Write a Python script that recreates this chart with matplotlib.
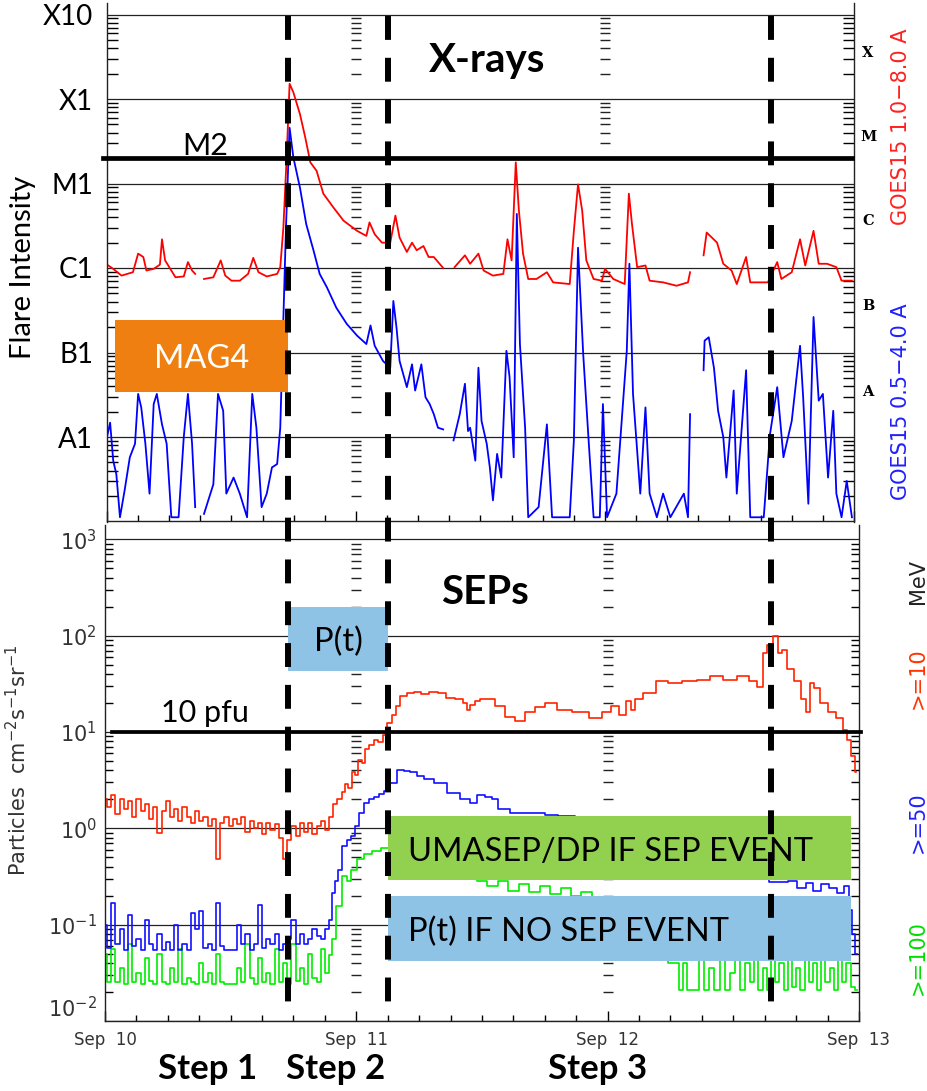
import matplotlib
matplotlib.use("Agg")
import matplotlib.pyplot as plt
import matplotlib.transforms as mtransforms
import numpy as np
from matplotlib.lines import Line2D
from matplotlib.patches import Rectangle
from matplotlib.ticker import LogLocator, NullFormatter

plt.rcParams['mathtext.fontset'] = 'dejavusans'

# ---- data: time in hours since Sep 10 00 UT, values as log10 ----
NAN = float('nan')

# GOES15 1.0-8.0 A (W m-2)
xl_t = [0, 0.6, 1.4, 2.5, 3.0, 3.5, 3.8, 4.5, 5.1, 5.3, 5.6, 6.1, 6.6, 7.4, 7.8, 8.2, 8.5, 8.9,
        9.35, 10.25, 10.96, 11.4, 12.0, 12.8, 13.6, 14.1, 14.6, 15.4, 16.4, 16.7, 17.0, 17.3, 17.6,
        17.96, 18.6, 19.1, 19.6, 20.2, 20.85, 21.8, 22.8, 24.1, 25.0, 25.3, 25.8, 26.5, 27.3, 27.8,
        28.2, 28.9, 29.4, 29.85, 30.5, 31.0, 31.5, 32.4, 32.9, 33.5, 34.5, 35.0, 35.8, 36.3, 37.2,
        38.2, 38.6, 39.0, 39.4, 39.7, 40.1, 40.6, 41.4, 42.4, 43.0, 44.6, 45.0, 45.4, 45.8, 46.2,
        46.9, 47.7, 48.0, 48.8, 49.9, 50.3, 50.6, 51.1, 51.9, 52.3, 53.6, 54.9, 56.0, 56.2, 56.8,
        57.5, 57.8, 58.8, 59.4, 60.2, 60.7, 61.6, 62.0, 63.0, 63.7, 64.6, 65.0, 66.0, 66.8, 67.3,
        68.1, 68.6, 69.4, 70.3, 70.8, 71.8]
xl_log = [-5.96, -6.01, -6.09, -6.05, -5.83, -5.87, -6.03, -6.01, -5.96, -5.66, -5.91, -6.01, -6.11,
          -6.10, -5.93, -6.03, -6.07, NAN, -6.13, -6.11, -5.91, -6.09, -6.15, -6.15, -6.07, -5.88,
          -6.05, -6.10, -6.07, -5.99, -5.52, -4.73, -3.82, -3.92, -4.18, -4.45, -4.75, -4.85, -5.12,
          -5.28, -5.44, -5.56, -5.62, -5.46, -5.60, -5.70, -5.70, -5.38, -5.64, -5.81, -5.70, -5.79,
          -5.74, -5.87, -5.87, -6.00, NAN, -5.99, -5.85, -5.95, -5.83, -6.03, -6.09, -6.07, -5.66,
          -5.91, -4.75, -5.32, -5.83, -6.13, -6.13, -6.05, -6.17, -6.19, -5.56, -5.01, -5.32, -5.91,
          -6.13, -6.15, -6.01, -6.13, -6.19, -5.12, -5.48, -5.99, -5.97, -6.15, -6.17, -6.21, -6.17,
          -6.05, NAN, -5.85, -5.58, -5.70, -5.95, -6.03, -6.19, -5.87, -6.17, -6.17, -6.17, -5.93,
          -6.13, -6.05, -5.66, -5.97, -5.56, -5.95, -5.95, -5.99, -6.15, -6.15]

# GOES15 0.5-4.0 A
xs_t = [0, 0.3, 0.6, 0.9, 1.25, 1.7, 2.2, 2.7, 3.0, 3.3, 3.7, 4.1, 4.5, 4.8, 5.3, 5.75, 6.2, 6.9,
        7.4, 7.8, 8.2, 8.5, 8.9, 9.35, 10.25, 10.7, 11.2, 11.5, 12.2, 12.8, 13.5, 14.0, 14.4, 14.9,
        15.4, 15.9, 16.4, 16.7, 17.0, 17.25, 17.6, 17.96, 18.6, 19.2, 19.9, 20.5, 21.2, 22.1, 23.1,
        24.1, 25.0, 25.4, 25.8, 26.6, 27.3, 27.6, 27.9, 28.2, 28.9, 29.4, 29.7, 30.3, 30.7, 31.1,
        31.5, 31.9, 32.4, 32.9, 33.4, 34.0, 34.5, 34.8, 35.0, 35.5, 35.8, 36.1, 36.6, 36.9, 37.2,
        37.6, 38.0, 38.5, 38.8, 39.2, 39.5, 39.8, 40.3, 40.6, 41.6, 42.4, 42.9, 44.6, 45.0, 45.4,
        45.9, 46.4, 46.9, 47.5, 47.8, 48.2, 49.1, 50.1, 50.35, 50.7, 51.4, 51.9, 52.3, 53.0, 53.6,
        54.3, 55.6, 56.0, 56.2, 56.8, 57.5, 57.6, 58.0, 58.5, 58.9, 59.4, 59.7, 60.4, 60.7, 61.6,
        62.0, 63.3, 63.9, 64.6, 65.2, 66.0, 66.8, 67.1, 67.6, 68.1, 68.6, 69.0, 69.5, 70.0, 70.3,
        70.8, 71.3, 71.8]
xs_log = [-8.00, -7.83, -8.28, -8.44, -8.95, -8.63, -8.24, -8.08, -7.49, -7.65, -8.08, -8.67, -7.61,
          -7.49, -7.85, -8.08, -8.95, -8.95, -8.00, -7.49, -8.08, -8.83, NAN, -8.91, -8.56, -7.49,
          -7.69, -8.67, -8.48, -8.67, -8.95, -7.49, -7.89, -8.83, -8.67, -8.36, -8.32, -7.89, -6.62,
          -5.52, -4.34, -4.69, -5.05, -5.48, -5.79, -6.07, -6.23, -6.47, -6.66, -6.80, -6.90, -6.68,
          -6.92, -7.10, -7.18, -6.39, -6.70, -7.10, -7.41, -7.14, -7.45, -7.14, -7.53, -7.61, -7.73,
          -7.89, -7.91, NAN, -8.04, -7.73, -7.37, -7.93, -7.89, -8.28, -7.18, -7.81, -8.08, -8.36,
          -8.75, -8.20, -8.48, -6.98, -7.29, -8.24, -5.36, -6.90, -7.89, -8.95, -8.83, -7.85, -8.95,
          -8.95, -8.04, -5.76, -7.02, -8.00, -8.95, -8.95, -7.61, -8.95, -8.67, -6.98, -5.95, -7.49,
          -8.67, -7.65, -8.67, -8.95, -8.67, -8.95, -8.67, -8.95, -7.73, NAN, -7.21, -6.86, -6.82,
          -7.18, -7.69, -8.00, -8.48, -7.45, -8.67, -7.21, -8.95, -8.95, -7.97, -7.41, -8.24, -7.81,
          -6.92, -7.53, -8.79, -6.58, -7.57, -7.49, -8.48, -7.69, -8.67, -8.95, -8.52, -8.95]

# GOES proton flux >=10 MeV (pfu)
p10_t = [0.0, 0.4, 0.8, 1.2, 1.6, 2.0, 2.4, 2.8, 3.2, 3.6, 4.0, 4.4, 4.8, 5.2, 5.6, 6.0, 6.4, 6.8,
         7.2, 7.6, 8.0, 8.4, 8.8, 9.2, 9.6, 10.0, 10.4, 10.8, 11.2, 11.6, 12.0, 12.4, 12.8, 13.2,
         13.6, 14.0, 14.4, 14.8, 15.2, 15.6, 16.0, 16.4, 16.8, 17.2, 17.6, 18.0, 18.4, 18.8, 19.2,
         19.6, 20.0, 20.4, 20.8, 21.2, 21.6, 22.0, 22.4, 22.8, 23.1, 23.4, 23.7, 24.0, 24.4, 24.7,
         25.0, 25.4, 25.9, 26.3, 26.7, 27.2, 27.6, 27.9, 28.5, 29.2, 29.8, 30.5, 31.4, 32.2, 32.9,
         33.9, 34.4, 34.7, 35.1, 35.5, 36.1, 36.8, 37.7, 38.7, 39.6, 40.6, 41.5, 42.5, 43.8, 45.4,
         47.0, 47.9, 48.7, 49.5, 50.0, 50.4, 50.8, 52.0, 53.3, 54.3, 55.9, 57.1, 58.4, 59.7, 61.0,
         61.9, 62.7, 62.9, 63.5, 64.0, 64.45, 64.9, 65.4, 66.2, 66.7, 67.1, 67.5, 68.0, 68.6, 69.5,
         70.2, 70.7, 71.1, 71.45, 71.7]
p10_log = [0.30, 0.22, 0.35, 0.15, 0.30, 0.20, 0.28, 0.12, 0.30, 0.18, 0.25, 0.10, 0.22, -0.05, 0.18,
           0.28, 0.12, 0.20, 0.08, 0.22, 0.12, 0.05, 0.18, 0.08, 0.12, 0.02, 0.10, -0.32, 0.06, 0.12,
           0.02, 0.10, 0.04, 0.12, -0.04, 0.08, 0.00, 0.06, -0.06, 0.05, -0.02, 0.04, -0.10, -0.32,
           -0.12, 0.02, -0.08, 0.05, -0.04, 0.06, -0.06, 0.02, 0.08, -0.02, 0.12, 0.25, 0.30, 0.38,
           0.46, 0.42, 0.58, 0.55, 0.71, 0.68, 0.82, 0.86, 0.92, 0.90, 0.97, 1.09, 1.18, 1.27, 1.37,
           1.40, 1.41, 1.39, 1.42, 1.40, 1.35, 1.34, 1.30, 1.23, 1.28, 1.32, 1.34, 1.34, 1.27, 1.16,
           1.11, 1.21, 1.26, 1.30, 1.23, 1.21, 1.15, 1.21, 1.27, 1.18, 1.32, 1.23, 1.34, 1.40, 1.53,
           1.51, 1.53, 1.54, 1.58, 1.54, 1.58, 1.53, 1.47, 1.82, 1.90, 2.00, 1.82, 1.85, 1.65, 1.53,
           1.34, 1.21, 1.51, 1.46, 1.30, 1.21, 1.15, 1.02, 0.92, 0.75, 0.58]

# >=50 MeV
p50_t = [0.0, 0.4, 0.8, 1.2, 1.6, 2.0, 2.4, 2.8, 3.2, 3.6, 4.0, 4.4, 4.8, 5.2, 5.6, 6.0, 6.4, 6.8,
         7.2, 7.6, 8.0, 8.4, 8.8, 9.2, 9.6, 10.0, 10.4, 10.8, 11.2, 11.6, 12.0, 12.4, 12.8, 13.2,
         13.6, 14.0, 14.4, 14.8, 15.2, 15.6, 16.0, 16.4, 16.8, 17.2, 17.6, 18.0, 18.4, 18.8, 19.2,
         19.6, 20.0, 20.4, 20.8, 21.2, 21.5, 21.8, 22.1, 22.4, 22.9, 23.3, 23.7, 24.0, 24.5, 25.0,
         25.5, 25.9, 26.4, 26.9, 27.5, 28.3, 28.8, 29.4, 30.1, 30.9, 32.0, 33.3, 34.5, 35.2, 35.8,
         36.8, 37.1, 38.0, 39.3, 41.2, 42.8, 43.8, 46.0, 50.0, 54.0, 58.0, 62.0, 64.8, 65.7, 66.5,
         67.3, 68.0, 68.8, 69.5, 70.3, 70.9, 71.2, 71.5, 71.8]
p50_log = [-1.00, -1.24, -0.78, -1.20, -1.05, -1.26, -0.90, -1.22, -1.15, -1.26, -0.95, -1.20, -1.26,
           -1.10, -1.26, -1.18, -1.26, -1.00, -1.26, -1.20, -1.26, -0.88, -1.05, -0.86, -1.24, -1.20,
           -1.26, -0.78, -1.22, -1.26, -1.26, -1.26, -1.00, -1.20, -1.10, -1.26, -1.20, -0.80, -1.24,
           -1.15, -1.20, -1.10, -1.26, -1.20, -1.15, -0.95, -1.20, -1.10, -1.20, -1.15, -1.05, -1.12,
           -1.15, -1.05, -0.95, -0.67, -0.55, -0.43, -0.18, -0.12, -0.08, 0.02, 0.16, 0.26, 0.30, 0.33,
           0.36, 0.39, 0.47, 0.61, 0.59, 0.58, 0.54, 0.51, 0.47, 0.37, 0.30, 0.26, 0.35, 0.33, 0.30,
           0.20, 0.16, 0.16, 0.14, 0.13, 0.05, -0.10, -0.25, -0.40, -0.50, -0.56, -0.55, -0.62, -0.57,
           -0.65, -0.58, -0.62, -0.67, -0.60, -0.85, -1.10, -1.30]

# >=100 MeV
p100_t = [0.0, 0.4, 0.8, 1.2, 1.6, 2.0, 2.4, 2.8, 3.2, 3.6, 4.0, 4.4, 4.8, 5.2, 5.6, 6.0, 6.4, 6.8,
          7.2, 7.6, 8.0, 8.4, 8.8, 9.2, 9.6, 10.0, 10.4, 10.8, 11.2, 11.6, 12.0, 12.4, 12.8, 13.2,
          13.6, 14.0, 14.4, 14.8, 15.2, 15.6, 16.0, 16.4, 16.8, 17.2, 17.6, 18.0, 18.4, 18.8, 19.2,
          19.6, 20.0, 20.4, 20.8, 21.2, 21.5, 21.8, 22.3, 22.9, 23.3, 23.7, 24.4, 25.0, 25.9, 26.9,
          29.0, 31.0, 33.0, 35.0, 36.0, 37.0, 38.0, 39.0, 40.0, 41.0, 42.0, 43.0, 44.0, 45.0, 46.0,
          47.0, 49.0, 51.0, 53.0, 54.6, 55.0, 55.4, 55.8, 56.4, 57.0, 57.4, 58.0, 58.4, 59.0, 59.4,
          60.0, 60.4, 60.8, 61.4, 61.8, 62.2, 62.6, 63.0, 63.4, 63.8, 64.2, 64.6, 65.0, 65.4, 65.8,
          66.2, 66.6, 67.0, 67.4, 67.8, 68.2, 68.6, 69.0, 69.4, 69.8, 70.2, 70.6, 71.0, 71.4, 71.8]
p100_log = [-1.30, -1.60, -1.25, -1.60, -1.45, -1.62, -1.20, -1.60, -1.50, -1.62, -1.35, -1.58, -1.62,
            -1.30, -1.60, -1.62, -1.45, -1.60, -1.25, -1.62, -1.55, -1.60, -1.62, -1.40, -1.60, -1.50,
            -1.62, -1.30, -1.60, -1.62, -1.62, -1.62, -1.45, -1.60, -1.20, -1.55, -1.62, -1.35, -1.60,
            -1.50, -1.62, -1.25, -1.60, -1.40, -1.62, -1.20, -1.58, -1.45, -1.62, -1.30, -1.55, -1.60,
            -1.25, -1.50, -1.32, -1.15, -0.81, -0.50, -0.55, -0.43, -0.32, -0.27, -0.24, -0.20, -0.18,
            -0.22, -0.30, -0.50, -0.55, -0.60, -0.55, -0.65, -0.58, -0.66, -0.60, -0.68, -0.62, -0.70,
            -0.66, -0.85, -1.00, -1.15, -1.30, -1.40, -1.68, -1.40, -1.68, -1.68, -1.30, -1.68, -1.45,
            -1.68, -1.30, -1.68, -1.50, -1.25, -1.68, -1.40, -1.60, -1.30, -1.68, -1.45, -1.68, -1.35,
            -1.60, -1.40, -1.68, -1.30, -1.65, -1.45, -1.68, -1.35, -1.60, -1.40, -1.68, -1.30, -1.60,
            -1.45, -1.68, -1.35, -1.60, -1.40, -1.65, -1.68]

event_hours = [17.47, 27.0, 63.6]          # flare onset, >10 pfu crossing, later event
m2_flux = 2e-5
pfu_threshold = 10
goes_levels = [1e-8, 1e-7, 1e-6, 1e-5, 1e-4, 1e-3]
goes_labels = ['A1', 'B1', 'C1', 'M1', 'X1', 'X10']
sep_levels = [1e-2, 1e-1, 1e0, 1e1, 1e2, 1e3]
sep_labels = [r'$10^{-2}$', r'$10^{-1}$', r'$10^{0}$', r'$10^{1}$', r'$10^{2}$', r'$10^{3}$']
day_hours = [0, 24, 48, 72]
day_labels = ['Sep  10', 'Sep  11', 'Sep  12', 'Sep  13']

W, H = 928, 1091
OFFICE = ['Lato', 'DejaVu Sans']
GRAY = '#333333'


def fx(x):
    return x / W


def fy(y):
    return 1 - y / H


def pow10(vals):
    return 10 ** np.array(vals, dtype=float)


fig = plt.figure(figsize=(W / 100, H / 100), dpi=100)
ax1 = fig.add_axes([fx(107), fy(521.5), (854 - 107) / W, (521.5 - 3) / H])
ax2 = fig.add_axes([fx(105), fy(1021), (859 - 105) / W, (1021 - 525) / H])

ax1.plot(xl_t, pow10(xl_log), color='#ff0000', lw=1.3, zorder=2)
ax1.plot(xs_t, pow10(xs_log), color='#0000ff', lw=1.3, zorder=2)
ax2.plot(p100_t, pow10(p100_log), color='#00ee00', lw=1.2, drawstyle='steps-mid', zorder=2)
ax2.plot(p50_t, pow10(p50_log), color='#1010ff', lw=1.2, drawstyle='steps-mid', zorder=2.1)
ax2.plot(p10_t, pow10(p10_log), color='#ff2200', lw=1.2, drawstyle='steps-mid', zorder=2.2)

ax1.set_ylim(1e-9, 10 ** (-3 + 11.5 / 84.5))
ax2.set_ylim(1e-2, 10 ** (3 + 14.3 / 96.5))

minor_hours = [h for h in range(3, 72, 3) if h % 24]
for ax, levels, labels, lo, hi in [(ax1, goes_levels, goes_labels, -9, -3),
                                   (ax2, sep_levels, sep_labels, -2, 3)]:
    ax.set_yscale('log')
    ax.set_xlim(0, 72)
    ax.spines['top'].set_visible(False)
    for s in ['left', 'right', 'bottom']:
        ax.spines[s].set_linewidth(1.0)
        ax.spines[s].set_color('#222222')
    ax.set_yticks(levels)
    ax.yaxis.set_minor_locator(LogLocator(base=10, subs=np.arange(2, 10)))
    ax.yaxis.set_minor_formatter(NullFormatter())
    ax.yaxis.grid(True, which='major', color='#222222', lw=0.9)
    ax.set_xticks(day_hours)
    ax.set_xticks(minor_hours, minor=True)
    ax.tick_params(axis='x', which='major', direction='in', length=7, width=1)
    ax.tick_params(axis='x', which='minor', direction='in', length=4, width=1)
    ax.tick_params(axis='y', which='major', length=0)
    ax.tick_params(axis='y', which='minor', direction='in', left=True, right=True, width=1)
    # tick columns at the day boundaries
    minor_vals = [m * 10.0 ** k for k in range(lo, hi) for m in range(2, 10)]
    for d in day_hours[1:3]:
        ax.plot([d] * len(minor_vals), minor_vals, ls='none', marker='_', ms=7, mew=1,
                color='#222222', zorder=1.5)

ax1.set_yticklabels(goes_labels, fontsize=20, family=OFFICE)
ax1.tick_params(axis='y', which='major', pad=10)
ax1.tick_params(axis='y', which='minor', length=8)
ax1.tick_params(axis='x', labelbottom=False)

ax2.set_yticklabels(sep_labels, fontsize=15, color=GRAY)
ax2.get_yticklabels()[0].set_verticalalignment('bottom')
ax2.tick_params(axis='y', which='major', pad=6)
ax2.tick_params(axis='y', which='minor', length=6)
ax2.set_xticklabels(day_labels, fontsize=12, color=GRAY)
ax2.tick_params(axis='x', which='major', pad=7)

# threshold lines
ax1.axhline(m2_flux, xmin=-0.0054, xmax=0.997, color='black', lw=3.4, clip_on=False, zorder=4)
ax2.axhline(pfu_threshold, xmin=0.009, xmax=1.003, color='black', lw=2.7, clip_on=False, zorder=4)

# method boxes
boxes = [((115, 320, 288, 392), '#ee7f10', 'MAG4', 'white', (202, 368), 'center'),
         ((288, 607, 388, 671), '#8ec3e6', 'P(t)', 'black', (338, 651), 'center'),
         ((388, 816, 851, 880), '#92d050', 'UMASEP/DP IF SEP EVENT', 'black', (408, 861), 'left'),
         ((388, 896, 851, 961), '#8ec3e6', 'P(t) IF NO SEP EVENT', 'black', (408, 941), 'left')]
for (x0, y0, x1, y1), fc, txt, tc, (tx, ty), ha in boxes:
    fig.add_artist(Rectangle((fx(x0), fy(y1)), (x1 - x0) / W, (y1 - y0) / H,
                             transform=fig.transFigure, fc=fc, ec='none', zorder=3))
    fig.text(fx(tx), fy(ty), txt, ha=ha, va='baseline', color=tc, fontsize=23.5,
             family=OFFICE, zorder=4)

# event markers across both panels
trans = mtransforms.blended_transform_factory(ax2.transData, fig.transFigure)
for t in event_hours:
    fig.add_artist(Line2D([t, t], [fy(15.5), fy(1005)], transform=trans, color='black',
                          lw=4.3, dashes=(4, 3), zorder=5))

# titles and annotations
fig.text(fx(487), fy(72), 'X-rays', ha='center', va='baseline', fontsize=29,
         fontweight='bold', family=OFFICE)
fig.text(fx(485), fy(604), 'SEPs', ha='center', va='baseline', fontsize=29,
         fontweight='bold', family=OFFICE)
fig.text(fx(205), fy(155), 'M2', ha='center', va='baseline', fontsize=22, family=OFFICE)
fig.text(fx(205), fy(722), '10 pfu', ha='center', va='baseline', fontsize=22, family=OFFICE)
for label, x in [('Step 1', 208), ('Step 2', 336), ('Step 3', 598)]:
    fig.text(fx(x), fy(1079), label, ha='center', va='baseline', fontsize=25,
             fontweight='bold', family=OFFICE)

fig.text(fx(23), fy(267), 'Flare Intensity', rotation=90, ha='center', va='center',
         fontsize=21, family=OFFICE)
fig.text(fx(18), fy(760), r'Particles  cm$^{-2}$s$^{-1}$sr$^{-1}$', rotation=90,
         ha='center', va='center', fontsize=15, color=GRAY)

for letter, y in [('X', 53), ('M', 137), ('C', 221), ('B', 306), ('A', 392)]:
    fig.text(fx(868), fy(y), letter, ha='center', va='center', fontsize=10.5,
             fontweight='bold', family='DejaVu Serif')
fig.text(fx(901), fy(126.5), 'GOES15 1.0\u22128.0 A', rotation=90, ha='center', va='center',
         fontsize=15, color='#ff2020')
fig.text(fx(901), fy(402), 'GOES15 0.5\u22124.0 A', rotation=90, ha='center', va='center',
         fontsize=15, color='#2020ff')
for txt, y, c in [('MeV', 582, '#222222'), ('>=10', 678, '#ff3300'),
                  ('>=50', 822, '#2020ff'), ('>=100', 958, '#00dd00')]:
    fig.text(fx(918), fy(y), txt, rotation=90, ha='center', va='center', fontsize=15, color=c)

fig.savefig('out.png', dpi=100)
